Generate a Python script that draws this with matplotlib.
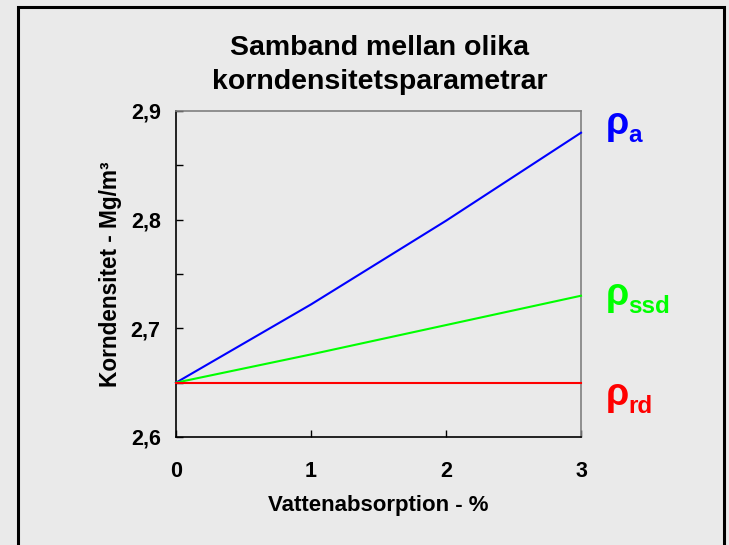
import matplotlib
matplotlib.use("Agg")
import matplotlib.pyplot as plt
from matplotlib.patches import Rectangle
from matplotlib.ticker import MultipleLocator

plt.rcParams['font.family'] = ['Liberation Sans', 'DejaVu Sans']
plt.rcParams['font.weight'] = 'bold'

# data
absorption = [0, 1, 2, 3]
rho_a = [2.65, 2.722, 2.799, 2.880]
rho_ssd = [2.65, 2.676, 2.703, 2.730]
rho_rd = [2.65, 2.65, 2.65, 2.65]
series_names = ['a', 'ssd', 'rd']
colors = ['#0000ff', '#00ff00', '#ff0000']
bg = '#eaeaea'

W, H = 729, 545
fig = plt.figure(figsize=(W / 100, H / 100), dpi=100, facecolor=bg)

# outer frame
fig.patches.append(Rectangle((17.5 / W, -0.05), (723.5 - 17.5) / W, 1.05 - 6.5 / H,
                             transform=fig.transFigure, fill=False,
                             edgecolor='black', linewidth=2.2))

ax = fig.add_axes([176 / W, 1 - 437 / H, (581 - 176) / W, (437 - 111) / H])
ax.set_facecolor(bg)

for ys, c in zip([rho_a, rho_ssd, rho_rd], colors):
    ax.plot(absorption, ys, color=c, linewidth=1.5, clip_on=False, zorder=3)

ax.set_xlim(0, 3)
ax.set_ylim(2.6, 2.9)
ax.xaxis.set_major_locator(MultipleLocator(1))
ax.yaxis.set_major_locator(MultipleLocator(0.1))
ax.yaxis.set_minor_locator(MultipleLocator(0.05))
ax.yaxis.set_major_formatter(lambda v, p: f"{v:.1f}".replace('.', ','))

ax.tick_params(axis='both', which='both', direction='in', labelsize=15.5, width=1)
ax.tick_params(axis='y', which='major', length=5, pad=11)
ax.tick_params(axis='y', which='minor', length=5)
ax.tick_params(axis='x', which='major', length=5, pad=17)

for s in ['left', 'bottom']:
    ax.spines[s].set_color('black')
    ax.spines[s].set_linewidth(1.2)
for s in ['top', 'right']:
    ax.spines[s].set_color('#808080')
    ax.spines[s].set_linewidth(1.2)

ax.set_xlabel('Vattenabsorption - %', fontsize=16, fontweight='bold', labelpad=10)
ax.set_ylabel('Korndensitet - Mg/m³', fontsize=16.3, fontweight='bold', labelpad=6)

fig.text(380 / W, 1 - 65 / H, 'Samband mellan olika\nkorndensitetsparametrar',
         ha='center', va='center', fontsize=20.5, fontweight='bold', linespacing=1.42)

# right-side labels (rho with subscript)
base_px = [134, 305, 405]
for name, c, b in zip(series_names, colors, base_px):
    fig.text(606 / W, 1 - b / H, 'ρ', color=c, fontsize=27, fontweight='bold',
             ha='left', va='baseline')
    fig.text(628 / W, 1 - (b + 8) / H, name, color=c, fontsize=17.5, fontweight='bold',
             ha='left', va='baseline')

fig.savefig('out.png', dpi=100, facecolor=bg)
